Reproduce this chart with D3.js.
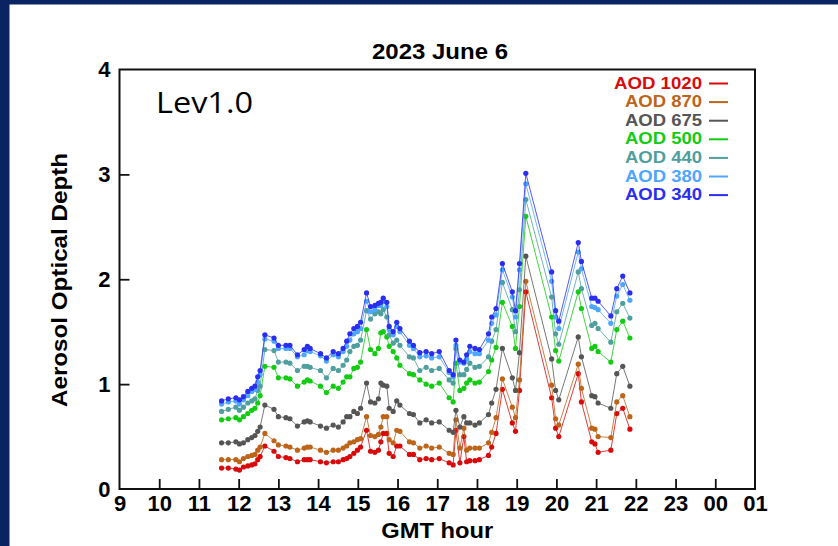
<!DOCTYPE html>
<html>
<head>
<meta charset="utf-8">
<script src="https://cdn.jsdelivr.net/npm/d3@7"></script>
<style>
  html, body { margin: 0; padding: 0; background: #0a2362; }
  svg { display: block; }
</style>
</head>
<body>
<svg id="chart" width="838" height="546"></svg>
<script>
// GMT hour of each measurement
const hours = [11.57,11.74,11.93,12.02,12.12,12.23,12.33,12.41,12.48,12.54,12.66,12.89,13.00,13.19,13.29,13.48,13.65,13.73,13.80,14.06,14.21,14.38,14.51,14.63,14.72,
  14.80,14.90,14.99,15.07,15.22,15.32,15.43,15.52,15.58,15.64,15.73,15.79,15.89,15.98,16.06,16.30,16.40,16.56,16.72,16.86,17.05,17.30,17.40,17.47,17.57,17.67,17.74,
  17.82,17.95,18.06,18.29,18.37,18.48,18.64,18.89,18.97,19.07,19.23,19.88,19.98,20.06,20.55,20.63,20.89,20.97,21.05,21.37,21.52,21.67,21.85];

const aod1020 = [0.20,0.20,0.19,0.18,0.21,0.22,0.23,0.24,0.28,0.31,0.41,0.36,0.31,0.30,0.29,0.26,0.28,0.28,0.28,0.26,0.25,0.26,0.26,0.28,0.29,
  0.31,0.34,0.37,0.40,0.56,0.36,0.35,0.37,0.45,0.53,0.53,0.34,0.31,0.41,0.41,0.33,0.33,0.28,0.29,0.28,0.29,0.25,0.23,0.56,0.25,0.50,0.26,
  0.27,0.27,0.28,0.32,0.40,0.53,0.95,0.63,0.55,0.94,1.88,0.87,0.58,0.50,1.10,0.83,0.45,0.43,0.35,0.37,0.72,0.77,0.57];
const aod870 = [0.28,0.28,0.28,0.26,0.29,0.31,0.32,0.33,0.37,0.40,0.53,0.46,0.42,0.41,0.40,0.37,0.39,0.40,0.40,0.37,0.35,0.37,0.37,0.39,0.41,
  0.44,0.45,0.47,0.48,0.69,0.51,0.50,0.52,0.59,0.69,0.69,0.47,0.44,0.56,0.55,0.45,0.44,0.39,0.41,0.39,0.40,0.34,0.33,0.66,0.39,0.58,0.37,
  0.39,0.39,0.39,0.44,0.54,0.68,1.05,0.78,0.68,1.04,1.98,0.99,0.67,0.61,1.19,0.96,0.58,0.57,0.50,0.49,0.83,0.89,0.69];
const aod675 = [0.44,0.44,0.45,0.43,0.44,0.47,0.49,0.51,0.55,0.59,0.80,0.76,0.69,0.68,0.67,0.60,0.64,0.65,0.64,0.60,0.58,0.61,0.59,0.64,0.69,
  0.69,0.74,0.72,0.77,1.01,0.83,0.82,0.86,1.01,0.99,0.98,0.77,0.74,0.84,0.80,0.72,0.71,0.63,0.66,0.63,0.64,0.56,0.54,0.75,0.59,0.69,0.63,
  0.63,0.61,0.63,0.71,0.82,0.95,1.34,1.06,0.94,1.30,2.22,1.24,0.94,0.85,1.45,1.26,0.89,0.88,0.82,0.77,1.10,1.17,0.98];
const aod500 = [0.66,0.67,0.68,0.66,0.69,0.72,0.75,0.77,0.82,0.89,1.17,1.16,1.06,1.06,1.05,0.98,1.02,1.04,1.03,0.98,0.92,0.98,0.96,1.02,1.07,
  1.07,1.15,1.16,1.21,1.52,1.33,1.29,1.34,1.49,1.50,1.45,1.36,1.31,1.25,1.18,1.10,1.09,1.04,1.00,0.98,1.01,0.87,0.83,1.20,0.94,0.96,1.01,
  1.04,1.01,1.02,1.12,1.23,1.35,1.78,1.55,1.34,1.74,2.60,1.64,1.32,1.22,1.88,1.72,1.34,1.36,1.31,1.21,1.52,1.60,1.44];
const aod440 = [0.74,0.76,0.78,0.75,0.78,0.82,0.84,0.86,0.94,0.98,1.33,1.32,1.21,1.21,1.20,1.13,1.17,1.17,1.16,1.13,1.06,1.15,1.13,1.18,1.23,
  1.31,1.36,1.37,1.42,1.70,1.62,1.67,1.69,1.67,1.71,1.64,1.47,1.39,1.42,1.37,1.26,1.25,1.13,1.16,1.13,1.15,1.04,1.01,1.34,1.09,1.09,1.14,
  1.20,1.16,1.17,1.26,1.41,1.52,1.97,1.71,1.50,1.90,2.76,1.83,1.48,1.38,2.07,1.91,1.56,1.58,1.53,1.40,1.69,1.77,1.63];
const aod380 = [0.81,0.83,0.84,0.81,0.85,0.89,0.93,0.95,1.02,1.09,1.43,1.41,1.34,1.34,1.34,1.26,1.28,1.32,1.31,1.27,1.22,1.28,1.26,1.31,1.36,
  1.42,1.48,1.50,1.53,1.79,1.69,1.71,1.75,1.75,1.79,1.74,1.52,1.47,1.55,1.50,1.37,1.34,1.26,1.27,1.25,1.26,1.11,1.07,1.37,1.21,1.20,1.24,
  1.31,1.29,1.29,1.42,1.58,1.66,2.09,1.83,1.64,2.09,2.91,1.98,1.64,1.53,2.26,2.10,1.74,1.73,1.71,1.58,1.84,1.95,1.80];
const aod340 = [0.84,0.86,0.87,0.85,0.88,0.93,0.96,0.98,1.07,1.13,1.47,1.44,1.37,1.37,1.37,1.28,1.33,1.36,1.34,1.29,1.25,1.31,1.29,1.34,1.41,
  1.48,1.53,1.55,1.59,1.87,1.74,1.75,1.77,1.78,1.82,1.78,1.55,1.50,1.59,1.53,1.41,1.37,1.30,1.31,1.29,1.31,1.13,1.09,1.42,1.23,1.21,1.28,
  1.36,1.34,1.33,1.48,1.64,1.72,2.15,1.88,1.70,2.15,3.01,2.07,1.70,1.60,2.35,2.17,1.82,1.82,1.79,1.65,1.91,2.03,1.87];

const seriesNames = ['AOD 1020', 'AOD 870', 'AOD 675', 'AOD 500', 'AOD 440', 'AOD 380', 'AOD 340'];
const seriesValues = [aod1020, aod870, aod675, aod500, aod440, aod380, aod340];
const seriesColors = ['#d80a0a', '#bd6419', '#555555', '#12cc12', '#4f9f9f', '#4da6ff', '#2a2ef0'];

const xTicks = [9,10,11,12,13,14,15,16,17,18,19,20,21,22,23,24,25];
const xTickLabels = ['9','10','11','12','13','14','15','16','17','18','19','20','21','22','23','00','01'];
const yTicks = [0,1,2,3,4];

const svg = d3.select('#chart');
const font = '"Liberation Sans", Arial, Helvetica, sans-serif';

// white panel over navy background
svg.append('rect')
  .attr('x', 9.5).attr('y', 4.5)
  .attr('width', 838 - 9.5).attr('height', 546 - 4.5)
  .attr('fill', '#ffffff');

const plot = { left: 119.5, right: 755, top: 69.5, bottom: 489 };

const x = d3.scaleLinear().domain([9, 25]).range([plot.left, plot.right]);
const y = d3.scaleLinear().domain([0, 4]).range([plot.bottom, plot.top]);

// axes with inward ticks
const xAxis = svg.append('g')
  .attr('transform', 'translate(0,' + plot.bottom + ')')
  .call(d3.axisBottom(x)
    .tickValues(xTicks)
    .tickFormat((d, i) => xTickLabels[i])
    .tickSizeInner(-10)
    .tickSizeOuter(0)
    .tickPadding(6.5));

const yAxis = svg.append('g')
  .attr('transform', 'translate(' + plot.left + ',0)')
  .call(d3.axisLeft(y)
    .tickValues(yTicks)
    .tickFormat(d3.format('d'))
    .tickSizeInner(-10)
    .tickSizeOuter(0)
    .tickPadding(9));

[xAxis, yAxis].forEach(g => {
  g.select('.domain').remove();
  g.selectAll('.tick line').attr('stroke', '#111').attr('stroke-width', 1.8);
  g.selectAll('.tick text')
    .attr('fill', '#000')
    .style('font-family', font)
    .style('font-weight', 'bold')
    .style('font-size', '22px');
});
xAxis.selectAll('.tick').filter(d => d === 9 || d === 25).select('line').remove();
yAxis.selectAll('.tick').filter(d => d === 0 || d === 4).select('line').remove();

// frame
svg.append('rect')
  .attr('x', plot.left).attr('y', plot.top)
  .attr('width', plot.right - plot.left).attr('height', plot.bottom - plot.top)
  .attr('fill', 'none')
  .attr('stroke', '#111')
  .attr('stroke-width', 2);

// series
const line = d3.line()
  .x((d, i) => x(hours[i]))
  .y(d => y(d));

seriesValues.forEach((vals, s) => {
  const g = svg.append('g');
  g.append('path')
    .datum(vals)
    .attr('fill', 'none')
    .attr('stroke', seriesColors[s])
    .attr('stroke-opacity', 0.8)
    .attr('stroke-width', 1)
    .attr('d', line);
  g.selectAll('circle')
    .data(vals)
    .join('circle')
    .attr('cx', (d, i) => x(hours[i]))
    .attr('cy', d => y(d))
    .attr('r', 2.6)
    .attr('fill', seriesColors[s]);
});

// legend
const legendWidths = [88, 77, 77, 77, 77, 77, 77];
const legend = svg.append('g');
seriesNames.forEach((name, i) => {
  const cy = 82.5 + i * 18.6;
  legend.append('text')
    .attr('x', 702)
    .attr('y', cy + 6)
    .attr('text-anchor', 'end')
    .attr('textLength', legendWidths[i])
    .attr('lengthAdjust', 'spacingAndGlyphs')
    .attr('fill', seriesColors[i])
    .style('font-family', font)
    .style('font-weight', 'bold')
    .style('font-size', '16px')
    .text(name);
  legend.append('line')
    .attr('x1', 709).attr('x2', 728)
    .attr('y1', cy + 1).attr('y2', cy + 1)
    .attr('stroke', seriesColors[i])
    .attr('stroke-width', 2);
});

// titles
svg.append('text')
  .attr('x', 440)
  .attr('y', 59)
  .attr('text-anchor', 'middle')
  .attr('textLength', 136)
  .attr('lengthAdjust', 'spacingAndGlyphs')
  .style('font-family', font)
  .style('font-weight', 'bold')
  .style('font-size', '22px')
  .text('2023 June 6');

svg.append('text')
  .attr('x', 156)
  .attr('y', 113)
  .attr('textLength', 97)
  .attr('lengthAdjust', 'spacingAndGlyphs')
  .style('font-family', '"Open Sans", "Noto Sans", sans-serif')
  .style('font-size', '30px')
  .text('Lev1.0');

svg.append('text')
  .attr('x', (plot.left + plot.right) / 2)
  .attr('y', 538)
  .attr('text-anchor', 'middle')
  .attr('textLength', 112)
  .attr('lengthAdjust', 'spacingAndGlyphs')
  .style('font-family', font)
  .style('font-weight', 'bold')
  .style('font-size', '22px')
  .text('GMT hour');

svg.append('text')
  .attr('transform', 'translate(67,280) rotate(-90)')
  .attr('text-anchor', 'middle')
  .attr('textLength', 254)
  .attr('lengthAdjust', 'spacingAndGlyphs')
  .style('font-family', font)
  .style('font-weight', 'bold')
  .style('font-size', '22px')
  .text('Aerosol Optical Depth');
</script>
</body>
</html>
